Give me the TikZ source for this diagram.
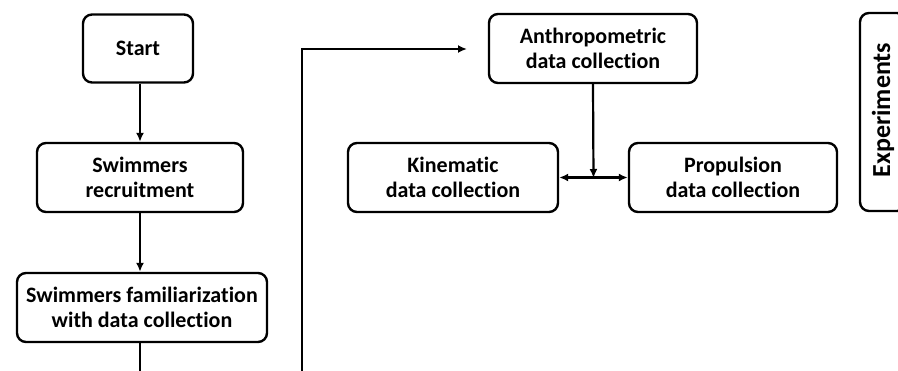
\documentclass[tikz,border=0pt]{standalone}
\usepackage{fontspec}
\setmainfont{Carlito}[Ligatures=NoCommon]
\usetikzlibrary{arrows.meta}
\begin{document}
\begin{tikzpicture}[x=1pt,y=-1pt,
  box/.style={draw,line width=2.4pt,rounded corners=9pt,align=center,inner sep=0pt,
    font=\fontsize{22}{25}\selectfont\bfseries,minimum height=69pt},
  conn/.style={line width=2.2pt,-{Latex[length=9pt,width=8pt]}},
  plain/.style={line width=2.2pt}]
\useasboundingbox (0,0) rectangle (898,370);
\node[box,minimum width=110pt,minimum height=68pt] (start) at (138,48.5) {Start};
\node[box,minimum width=206pt] (rec) at (140,177.5) {Swimmers\\recruitment};
\node[box,minimum width=250pt] (fam) at (142,307.5) {Swimmers familiarization\\with data collection};
\node[box,minimum width=208pt] (anth) at (593,48.5) {Anthropometric\\data collection};
\node[box,minimum width=210pt] (kin) at (453,177.5) {Kinematic\\data collection};
\node[box,minimum width=208pt] (prop) at (733,177.5) {Propulsion\\data collection};
\node[box,minimum width=46pt,minimum height=198pt] (exp) at (883,112) {};
\node[font=\fontsize{26}{30}\selectfont\bfseries,rotate=90,inner sep=0pt] (explabel) at (883,110) {Experiments};
\coordinate (famend) at (140,372);
\coordinate (loopstart) at (302,372);
\coordinate (loopcorner) at (302,49);
\coordinate (looptip) at (467,49);
\coordinate (mid) at (593.5,178);
\draw[conn] (start.south -| rec.north) -- (rec.north);
\draw[conn] (rec.south) -- (rec.south |- fam.north);
\draw[plain] (fam.south -| famend) -- (famend);
\draw[conn] (loopstart) -- (loopcorner) -- (looptip);
\draw[conn] (anth.south) -- (mid);
\draw[line width=2.2pt,{Latex[length=9pt,width=8pt]}-{Latex[length=9pt,width=8pt]}] (kin.east) -- (prop.west);
\end{tikzpicture}
\end{document}
